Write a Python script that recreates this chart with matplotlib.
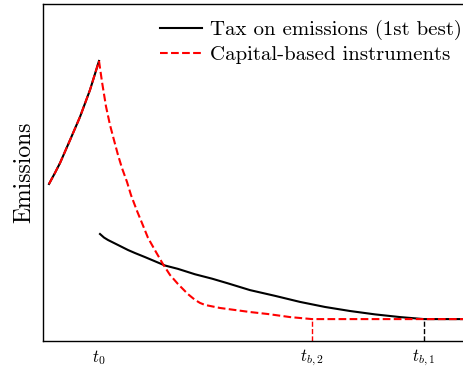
import matplotlib.pyplot as plt
import numpy as np

plt.rcParams['font.family'] = 'cmr10'
plt.rcParams['mathtext.fontset'] = 'cm'
plt.rcParams['axes.unicode_minus'] = False

# time markers
t0 = 5.6
tb2 = 26.9
tb1 = 38.1
tick_labels = ['$t_0$', '$t_{b,2}$', '$t_{b,1}$']

# before t0 (same for both instruments)
x_pre = np.array([0.6, 1.2, 1.7, 2.7, 3.7, 4.7, 5.6])
y_pre = np.array([46.6, 49.9, 52.8, 59.6, 66.5, 74.5, 83.1])

# tax on emissions after t0
x_tax = np.array([5.7, 6.1, 6.5, 7.5, 8.5, 9.2, 10.2, 12.2, 13.5, 15.2, 16.9, 18.5, 20.7,
                  23.2, 25.7, 28.2, 30.7, 33.2, 35.7, 38.1, 42.0])
y_tax = np.array([31.75, 30.7, 29.97, 28.49, 27.0, 26.1, 24.9, 22.4, 21.4, 19.8, 18.5, 17.1, 15.1,
                  13.4, 11.6, 10.1, 8.9, 7.9, 7.1, 6.5, 6.5])

# capital-based instruments after t0
x_cap = np.array([5.6, 5.9, 6.3, 6.7, 7.1, 7.5, 7.9, 8.4, 8.8, 9.4, 9.9, 10.5, 11.3, 12.0,
                  12.7, 13.5, 14.5, 15.2, 15.7, 16.2, 17.7, 19.2, 20.7, 22.5, 24.7,
                  26.9, 42.0])
y_cap = np.array([83.1, 76.9, 69.6, 64.1, 59.6, 55.2, 51.3, 47.2, 43.3, 38.6, 35.0, 30.6,
                  26.4, 22.8, 19.6, 16.9, 13.9, 12.2, 11.3, 10.7, 9.8, 9.2, 8.6,
                  8.0, 7.1, 6.5, 6.5])
floor = 6.5

fig = plt.figure(figsize=(4.63, 3.72), dpi=100)
ax = fig.add_axes([43/463, 31/372, 1 - 43/463, 337/372])

ax.plot(x_pre, y_pre, color='black', lw=1.5, label='Tax on emissions (1st best)')
ax.plot(x_tax, y_tax, color='black', lw=1.5)
ax.plot(x_pre, y_pre, color='red', lw=1.5, ls='--', label='Capital-based instruments')
ax.plot(x_cap, y_cap, color='red', lw=1.5, ls='--')

ax.plot([tb2, tb2], [0, floor], color='red', lw=1.0, ls='--')
ax.plot([tb1, tb1], [0, floor], color='black', lw=1.0, ls='--')

ax.set_xlim(0, 42)
ax.set_ylim(0, 100)
ax.set_xticks([t0, tb2, tb1])
ax.set_xticklabels(tick_labels, fontsize=12)
ax.set_yticks([])
ax.tick_params(axis='x', length=0, pad=5)
ax.spines['right'].set_visible(False)
for s in ['left', 'top', 'bottom']:
    ax.spines[s].set_linewidth(1.0)

ax.set_ylabel('Emissions', fontsize=17)
ax.yaxis.set_label_coords(-0.018, 0.5)

ax.legend(loc='upper right', frameon=False, fontsize=15, handlelength=2.0,
          labelspacing=0.27, borderaxespad=0, borderpad=0, handletextpad=0.4,
          bbox_to_anchor=(0.997, 0.953))

fig.savefig('out.png', dpi=100)
